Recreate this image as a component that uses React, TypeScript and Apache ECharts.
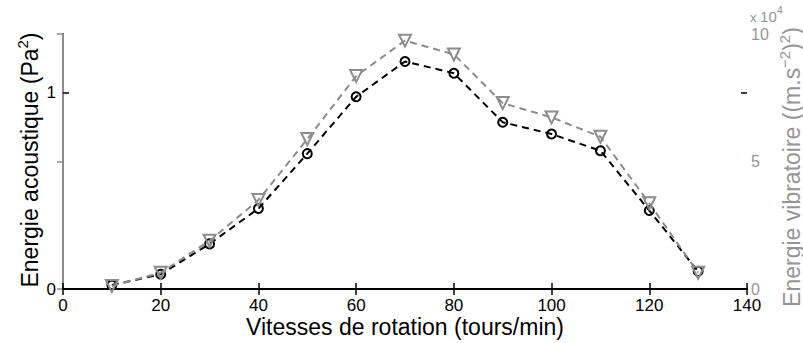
import React, { useEffect, useRef } from "react";
import * as echarts from "echarts";

const speeds = [10, 20, 30, 40, 50, 60, 70, 80, 90, 100, 110, 120, 130];
const acoustic = [0.02, 0.075, 0.23, 0.41, 0.69, 0.98, 1.16, 1.1, 0.85, 0.79, 0.705, 0.4, 0.09];
const vibration = [0.12, 0.64, 1.89, 3.49, 5.88, 8.35, 9.74, 9.2, 7.29, 6.73, 5.97, 3.36, 0.64];

const FONT = "Liberation Sans, Arial, Helvetica, sans-serif";
const GRAY = "#8c8c8c";
const TEXT_GRAY = "#959595";

export default function App() {
  const ref = useRef<HTMLDivElement>(null);
  useEffect(() => {
    if (!ref.current) return;
    const chart = echarts.init(ref.current, undefined, { renderer: "svg" });
    const tickLabel = { fontFamily: FONT, fontSize: 17, color: "#000" };
    chart.setOption({
      animation: false,
      backgroundColor: "#fff",
      grid: { left: 63, right: 56, top: 34, bottom: 54, containLabel: false },
      xAxis: [
        {
          type: "value", min: 0, max: 140, interval: 20, position: "bottom",
          axisLine: { lineStyle: { color: "#000", width: 2 } },
          axisTick: { inside: true, length: 6, lineStyle: { color: "#000", width: 1.5 } },
          axisLabel: { ...tickLabel, margin: 8 },
          splitLine: { show: false },
        },
        {
          type: "value", min: 0, max: 140, interval: 20, position: "top",
          axisLine: { lineStyle: { color: "#000", width: 2 } },
          axisTick: { inside: true, length: 6, lineStyle: { color: "#000", width: 1.5 } },
          axisLabel: { show: false },
          splitLine: { show: false },
        },
      ],
      yAxis: [
        {
          type: "value", min: 0, max: 1.3, interval: 1, position: "left",
          axisLine: { show: true, lineStyle: { color: "#000", width: 2 } },
          axisTick: { show: true, inside: true, length: 6, lineStyle: { color: "#000", width: 1.5 } },
          axisLabel: { ...tickLabel, margin: 7, showMaxLabel: false },
          splitLine: { show: false },
        },
        {
          type: "value", min: 0, max: 10, interval: 5, position: "right",
          axisLine: { show: true, lineStyle: { color: GRAY, width: 2 } },
          axisTick: { show: true, inside: true, length: 6, lineStyle: { color: GRAY, width: 1.5 } },
          axisLabel: { ...tickLabel, fontSize: 16, color: TEXT_GRAY, margin: 4 },
          splitLine: { show: false },
        },
        {
          type: "value", min: 0, max: 1.3, interval: 1, position: "right",
          axisLine: { show: false },
          axisTick: { show: true, inside: true, length: 6, customValues: [1], lineStyle: { color: "#000", width: 1.5 } },
          axisLabel: { show: false },
          splitLine: { show: false },
        },
      ],
      series: [
        {
          type: "line", xAxisIndex: 0, yAxisIndex: 0,
          data: speeds.map((s, i) => [s, acoustic[i]]),
          symbol: "circle", symbolSize: 9,
          lineStyle: { color: "#000", width: 2, type: [7, 5] },
          itemStyle: { color: "rgba(255,255,255,0)", borderColor: "#000", borderWidth: 2 },
          z: 2,
        },
        {
          type: "line", xAxisIndex: 0, yAxisIndex: 1,
          data: speeds.map((s, i) => [s, vibration[i]]),
          symbol: "triangle", symbolRotate: 180, symbolSize: 12,
          lineStyle: { color: GRAY, width: 2, type: [7, 5] },
          itemStyle: { color: "rgba(255,255,255,0)", borderColor: GRAY, borderWidth: 2 },
          z: 3,
        },
      ],
      graphic: [
        {
          type: "text", x: 28, y: 160, rotation: Math.PI / 2,
          style: {
            text: "{n|Energie acoustique (Pa}{s|2}{n|)}",
            align: "center", verticalAlign: "middle", fill: "#000",
            rich: {
              n: { fontFamily: FONT, fontSize: 23, fill: "#000", verticalAlign: "bottom" },
              s: { fontFamily: FONT, fontSize: 15, fill: "#000", verticalAlign: "bottom", padding: [0, 0, 11, 0] },
            },
          },
        },
        {
          type: "text", x: 790, y: 167, rotation: Math.PI / 2,
          style: {
            text: "{n|Energie vibratoire ((m.s}{s|\u22122}{n|)}{s|2}{n|)}",
            align: "center", verticalAlign: "middle", fill: TEXT_GRAY,
            rich: {
              n: { fontFamily: FONT, fontSize: 23, fill: TEXT_GRAY, verticalAlign: "bottom" },
              s: { fontFamily: FONT, fontSize: 15, fill: TEXT_GRAY, verticalAlign: "bottom", padding: [0, 0, 11, 0] },
            },
          },
        },
        {
          type: "text", x: 405, y: 327,
          style: {
            text: "Vitesses de rotation (tours/min)",
            align: "center", verticalAlign: "middle", fill: "#000",
            fontFamily: FONT, fontSize: 23,
          },
        },
        {
          type: "text", x: 750, y: 14,
          style: {
            text: "{x|x }{n|10}{s|4}",
            align: "left", verticalAlign: "middle", fill: TEXT_GRAY,
            rich: {
              x: { fontFamily: FONT, fontSize: 13, fill: TEXT_GRAY, verticalAlign: "bottom" },
              n: { fontFamily: FONT, fontSize: 15, fill: TEXT_GRAY, verticalAlign: "bottom" },
              s: { fontFamily: FONT, fontSize: 11, fill: TEXT_GRAY, verticalAlign: "bottom", padding: [0, 0, 8, 0] },
            },
          },
        },
      ],
    });
    return () => chart.dispose();
  }, []);
  return (
    <div
      ref={ref}
      style={{ position: "fixed", left: 0, top: 0, width: 803, height: 343, background: "#fff" }}
    />
  );
}
